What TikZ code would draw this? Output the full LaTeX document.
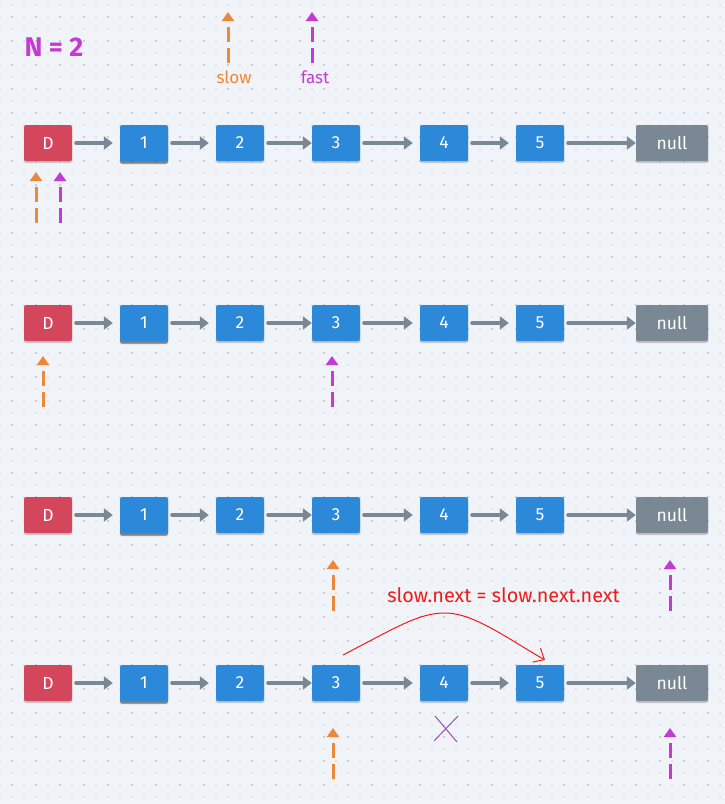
\documentclass[tikz,border=0pt]{standalone}
\usepackage{fontspec}
\setmainfont{Fira Sans}
\usetikzlibrary{arrows.meta,shadows}
\definecolor{bgc}{HTML}{F0F3F7}
\definecolor{litedot}{HTML}{E0E5EC}
\definecolor{darkdot}{HTML}{C6CED9}
\definecolor{dred}{HTML}{D4465B}
\definecolor{nblue}{HTML}{2C89DA}
\definecolor{ngray}{HTML}{7A8896}
\definecolor{lgray}{HTML}{7A8896}
\definecolor{porange}{HTML}{EB883A}
\definecolor{ppurple}{HTML}{C43BD4}
\definecolor{xpurple}{HTML}{9A4FB5}
\definecolor{cred}{HTML}{F21B1B}
\newcommand\llrow[2]{%
  \node[dbox] (#1d) at (48,#2) {D};
  \node[bbox,strongshadow] (#1a) at (144,#2) {1};
  \node[bbox] (#1b) at (240,#2) {2};
  \node[bbox] (#1c) at (336,#2) {3};
  \node[bbox] (#1e) at (444,#2) {4};
  \node[bbox] (#1f) at (540,#2) {5};
  \node[nbox] (#1n) at (672,#2) {null};
  \draw[link] (#1d) -- (#1a);
  \draw[link] (#1a) -- (#1b);
  \draw[link,shorten >=0pt] (#1b) -- (#1c);
  \draw[link] (#1c) -- (#1e);
  \draw[link] (#1e) -- (#1f);
  \draw[link,shorten >=0pt] (#1f) -- (#1n);
}
\begin{document}
\begin{tikzpicture}[x=1pt,y=-1pt,
  box/.style={minimum width=48pt,minimum height=36pt,rounded corners=2pt,
    text=white,font=\fontsize{17.5}{17.5}\selectfont,inner sep=0pt,
    drop shadow={shadow xshift=0pt,shadow yshift=-2pt,opacity=0.18,fill=black}},
  strongshadow/.style={drop shadow={shadow xshift=0pt,shadow yshift=-3pt,opacity=0.35,fill=black}},
  dbox/.style={box,fill=dred},
  bbox/.style={box,fill=nblue},
  nbox/.style={box,fill=ngray,minimum width=72pt},
  link/.style={draw=lgray,line width=4pt,line cap=round,
    -{Triangle[length=9pt,width=13pt]},shorten <=4pt,shorten >=7pt},
  ptr/.style={line width=3pt,dash pattern=on 15pt off 6pt,
    -{Triangle[length=9pt,width=12pt]}},
  optr/.style={ptr,draw=porange,color=porange},
  pptr/.style={ptr,draw=ppurple,color=ppurple},
  plabel/.style={font=\fontsize{17}{17}\selectfont,inner sep=0pt}
]
\useasboundingbox (0,0) rectangle (725,804);
\fill[bgc] (0,0) rectangle (725,804);
% dotted grid
\foreach \i in {0,...,60}{
  \foreach \j in {0,...,66}{
    \fill[litedot] (\i*12-1,\j*12+3.5) rectangle ++(2,2);
  }
}
\foreach \i in {0,...,29}{
  \foreach \j in {0,...,33}{
    \fill[darkdot] (\i*24+11,\j*24+15.5) rectangle ++(2,2);
  }
}
% title
\node[font=\fontsize{27}{27}\selectfont\bfseries,text=ppurple,inner sep=0pt] (title) at (54,47) {N = 2};
% legend pointers
\coordinate (lsb) at (228,63); \coordinate (lst) at (228,12);
\draw[optr] (lsb) -- (lst);
\node[plabel,text=porange] (lslow) at (234,77) {slow};
\coordinate (lfb) at (312,63); \coordinate (lft) at (312,12);
\draw[pptr] (lfb) -- (lft);
\node[plabel,text=ppurple] (lfast) at (315,77) {fast};
% rows
\llrow{r1}{143}
\llrow{r2}{323}
\llrow{r3}{515}
\llrow{r4}{683}
% row 1 pointers
\coordinate (p1ob) at (36,223); \coordinate (p1ot) at (36,172);
\draw[optr] (p1ob) -- (p1ot);
\coordinate (p1pb) at (60,223); \coordinate (p1pt) at (60,172);
\draw[pptr] (p1pb) -- (p1pt);
% row 2 pointers
\coordinate (p2ob) at (43,407); \coordinate (p2ot) at (43,356);
\draw[optr] (p2ob) -- (p2ot);
\coordinate (p2pb) at (332,407); \coordinate (p2pt) at (332,356);
\draw[pptr] (p2pb) -- (p2pt);
% row 3 pointers
\coordinate (p3ob) at (333,611); \coordinate (p3ot) at (333,560);
\draw[optr] (p3ob) -- (p3ot);
\coordinate (p3pb) at (670,611); \coordinate (p3pt) at (670,560);
\draw[pptr] (p3pb) -- (p3pt);
% row 4 pointers
\coordinate (p4ob) at (333,779); \coordinate (p4ot) at (333,728);
\draw[optr] (p4ob) -- (p4ot);
\coordinate (p4pb) at (670,779); \coordinate (p4pt) at (670,728);
\draw[pptr] (p4pb) -- (p4pt);
% red re-link
\node[text=cred,font=\fontsize{19.8}{19.8}\selectfont,inner sep=0pt] (rlabel) at (503.5,595) {slow.next = slow.next.next};
\coordinate (cs) at (343,655);
\coordinate (ce) at (545,660);
\draw[cred,line width=1pt,-{Straight Barb[length=9pt,width=16pt]}]
  (cs) .. controls (395,628) and (420,612) .. (447,613)
       .. controls (475,614) and (510,640) .. (ce);
% cross under node 4
\coordinate (x1) at (435,716); \coordinate (x2) at (457,742);
\coordinate (x3) at (458,716); \coordinate (x4) at (434,741);
\draw[xpurple,line width=1pt] (x1) -- (x2);
\draw[xpurple,line width=1pt] (x3) -- (x4);
\end{tikzpicture}
\end{document}
